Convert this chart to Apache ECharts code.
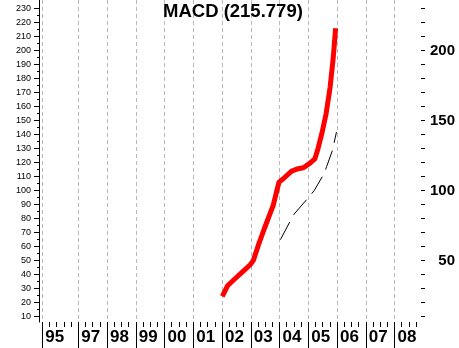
<!DOCTYPE html>
<html><head><meta charset="utf-8">
<script src="https://cdn.jsdelivr.net/npm/echarts@6/dist/echarts.min.js"></script>
<style>html,body{margin:0;padding:0;background:#fff}#c{width:459px;height:348px}</style>
</head><body><div id="c"></div>
<script>
const titleText = 'MACD (215.779)';
const macdYears  = [2002.01, 2002.20, 2002.45, 2002.74, 2002.98, 2003.09, 2003.26, 2003.47, 2003.67, 2003.78, 2003.98, 2004.13, 2004.42, 2004.65, 2004.83, 2005.06, 2005.23, 2005.34, 2005.47, 2005.62, 2005.76, 2005.87, 2005.95];
const macdValues = [24.3, 32.1, 36.9, 42.4, 46.9, 50.0, 60.7, 72.6, 83.4, 89.3, 105.9, 108.3, 113.8, 115.5, 116.2, 119.5, 122.6, 130.0, 140.5, 154.8, 173.8, 195.2, 215.8];
const signalYears  = [2004.03, 2004.37, 2004.50, 2005.00, 2005.21, 2005.56, 2005.64, 2005.84, 2005.98];
const signalValues = [64.8, 78.0, 82.9, 94.8, 100.0, 112.4, 117.1, 128.6, 141.7];
const xTickYears  = [1995.75, 1997, 1998, 1999, 2000, 2001, 2002, 2003, 2004, 2005, 2006, 2007, 2008];
const xTickLabels = ['95', '97', '98', '99', '00', '01', '02', '03', '04', '05', '06', '07', '08'];
const xMinorTicks = [1996, 1996.25, 1996.5, 1996.75].concat(
  xTickYears.slice(1).flatMap(y => [y + 0.25, y + 0.5, y + 0.75]));
const leftTickValues = [10, 20, 30, 40, 50, 60, 70, 80, 90, 100, 110, 120, 130, 140, 150, 160, 170, 180, 190, 200, 210, 220, 230];
const leftMinorTicks = [15, 25, 35, 45, 55, 65, 75, 85, 95, 105, 115, 125, 135, 145, 155, 165, 175, 185, 195, 205, 215, 225];
const rightTickLabels = [50, 100, 150, 200];

const X_MIN = 1995.635, X_MAX = 2008.92, Y_MIN = 6, Y_MAX = 236;
const FONT = 'Liberation Sans, Arial, sans-serif';

const chart = echarts.init(document.getElementById('c'), null, {renderer: 'canvas'});
chart.setOption({
  animation: false,
  backgroundColor: '#ffffff',
  title: {
    text: titleText, left: 158, top: -3,
    textStyle: {fontFamily: FONT, fontWeight: 'bold', fontSize: 18.5, color: '#000'}
  },
  grid: {left: 39, right: 38, top: 0, height: 322},
  xAxis: [
    {
      type: 'value', min: X_MIN, max: X_MAX, position: 'bottom',
      axisLine: {show: false},
      axisTick: {show: true, customValues: xTickYears, length: 26, lineStyle: {color: '#000', width: 1}},
      axisLabel: {
        show: true, customValues: xTickYears, interval: 0, hideOverlap: false,
        align: 'left', margin: 7, padding: [0, 0, 0, 3],
        fontFamily: FONT, fontWeight: 'bold', fontSize: 17, color: '#000',
        formatter: v => { const i = xTickYears.findIndex(t => Math.abs(t - v) < 1e-6); return i >= 0 ? xTickLabels[i] : ''; }
      },
      splitLine: {show: true, lineStyle: {color: '#b8b8b8', type: [4, 3], width: 1}}
    },
    {
      type: 'value', min: X_MIN, max: X_MAX, position: 'bottom', offset: 0,
      axisLine: {show: false},
      axisTick: {show: true, customValues: xMinorTicks, length: 5, lineStyle: {color: '#000', width: 1}},
      axisLabel: {show: false},
      splitLine: {show: false}
    }
  ],
  yAxis: [
    {
      type: 'value', min: Y_MIN, max: Y_MAX, position: 'left',
      axisLine: {show: true, lineStyle: {color: '#000', width: 1}},
      axisTick: {show: true, customValues: leftTickValues, length: 5, lineStyle: {color: '#000'}},
      axisLabel: {show: true, customValues: leftTickValues, margin: 8, fontFamily: FONT, fontSize: 9, color: '#000'},
      splitLine: {show: false}
    },
    {
      type: 'value', min: Y_MIN, max: Y_MAX, position: 'left', offset: 0,
      axisLine: {show: false},
      axisTick: {show: true, customValues: leftMinorTicks, length: 2, lineStyle: {color: '#000'}},
      axisLabel: {show: false},
      splitLine: {show: false}
    },
    {
      type: 'value', min: Y_MIN, max: Y_MAX, position: 'right',
      axisLine: {show: false},
      axisTick: {show: true, customValues: leftTickValues, length: 4, lineStyle: {color: '#000'}},
      axisLabel: {show: true, customValues: rightTickLabels, align: 'right', margin: 34,
        fontFamily: FONT, fontWeight: 'bold', fontSize: 15, color: '#000'},
      splitLine: {show: false}
    }
  ],
  series: [
    {
      type: 'line', xAxisIndex: 0, yAxisIndex: 0, symbol: 'none', silent: true,
      data: signalYears.map((y, i) => [y, signalValues[i]]),
      lineStyle: {color: '#000', width: 1, type: [20, 8]}
    },
    {
      type: 'line', xAxisIndex: 0, yAxisIndex: 0, symbol: 'none', silent: true,
      data: macdYears.map((y, i) => [y, macdValues[i]]),
      lineStyle: {color: '#ff0000', width: 5}
    }
  ]
});
</script></body></html>
